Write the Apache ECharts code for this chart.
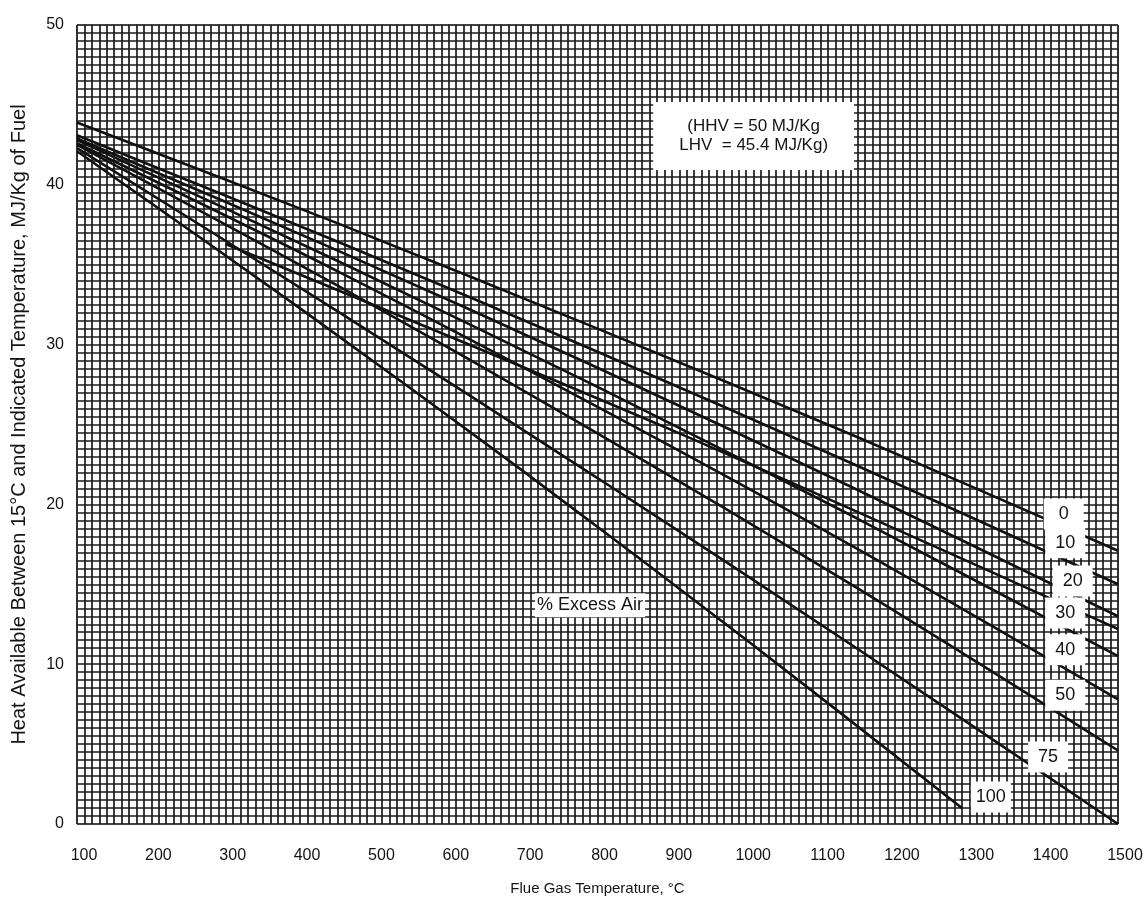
<!DOCTYPE html>
<html>
<head>
<meta charset="utf-8">
<script src="https://cdn.jsdelivr.net/npm/echarts@6/dist/echarts.min.js"></script>
<style>
  html, body { margin: 0; padding: 0; background: #fff; }
  #chart { width: 1148px; height: 902px; }
</style>
</head>
<body>
<div id="chart"></div>
<script>
// Heat available between 15 °C and flue gas temperature, one curve per % excess air.
// Each curve: [temperature °C, MJ/kg of fuel]
const air0   = [[100, 43.9], [450, 37.6], [800, 31.0], [1150, 24.2], [1500, 17.1]];
const air10  = [[100, 43.1], [450, 36.45], [800, 29.55], [1150, 22.4], [1500, 15.0]];
const air20  = [[100, 42.9], [450, 35.9], [800, 28.55], [1150, 20.9], [1500, 13.0]];
const extra  = [[300, 36.3], [900, 24.65], [1500, 12.2]];
const air30  = [[100, 42.8], [450, 35.25], [800, 27.35], [1150, 19.1], [1500, 10.5]];
const air40  = [[100, 42.6], [450, 34.6], [800, 26.1], [1150, 17.2], [1500, 7.8]];
const air50  = [[100, 42.5], [450, 33.7], [800, 24.45], [1150, 14.75], [1500, 4.6]];
const air75  = [[100, 42.3], [450, 32.1], [800, 21.65], [1150, 10.95], [1500, 0.0]];
const air100 = [[100, 42.1], [400, 32.27], [700, 22.08], [1000, 11.53], [1290, 1.0]];

const curves = [air0, air10, air20, extra, air30, air40, air50, air75, air100];

// Curve tags: [temperature, value, text]
const curveTags = [
  [1427, 19.4, '0'],
  [1429, 17.6, '10'],
  [1439, 15.2, '20'],
  [1429, 13.2, '30'],
  [1429, 10.9, '40'],
  [1429, 8.06, '50'],
  [1406, 4.19, '75'],
  [1329, 1.69, '100']
];
const fuelNote = [[1010, 43.06, '(HHV = 50 MJ/Kg\nLHV  = 45.4 MJ/Kg)']];
const airNote = [[790, 13.69, '% Excess Air']];

const xTitle = 'Flue Gas Temperature, °C';
const yTitle = 'Heat Available Between 15°C and Indicated Temperature, MJ/Kg of Fuel';

const FONT = '"Liberation Sans", Arial, sans-serif';
const INK = '#141414';
const gridLine = { color: '#1a1a1a', width: 1.7 };

const chart = echarts.init(document.getElementById('chart'), null, { renderer: 'canvas' });

const lineSeries = curves.map(pts => ({
  type: 'line',
  data: pts,
  showSymbol: false,
  symbol: 'none',
  smooth: 0.3,
  silent: true,
  z: 3,
  lineStyle: { color: '#111', width: 2.6 }
}));

function tagSeries(data, fontSize, padding, lineHeight, width) {
  return {
    type: 'scatter',
    data: data,
    symbolSize: 1,
    silent: true,
    z: 6,
    itemStyle: { color: 'rgba(0,0,0,0)', opacity: 1 },
    label: {
      show: true,
      position: 'inside',
      formatter: p => p.value[2],
      backgroundColor: '#ffffff',
      opacity: 1,
      padding: padding,
      width: width,
      fontFamily: FONT,
      fontSize: fontSize,
      lineHeight: lineHeight,
      color: INK,
      align: 'center'
    }
  };
}

chart.setOption({
  animation: false,
  backgroundColor: '#fff',
  grid: {
    left: 77, right: 30, top: 25, bottom: 78,
    containLabel: false,
    outerBoundsMode: 'none',
    show: true,
    borderColor: '#7a7a7a',
    borderWidth: 1
  },
  xAxis: {
    type: 'value',
    min: 100, max: 1500, interval: 100,
    name: xTitle,
    nameLocation: 'middle',
    nameGap: 57,
    nameTextStyle: { fontFamily: FONT, fontSize: 15, color: INK },
    axisLine: { show: false },
    axisTick: { show: false },
    axisLabel: {
      fontFamily: FONT, fontSize: 16, color: INK, margin: 24, padding: [0, 0, 0, 14],
      formatter: v => String(v)
    },
    splitLine: { show: true, lineStyle: gridLine },
    minorTick: { show: false, splitNumber: 10 },
    minorSplitLine: { show: true, lineStyle: gridLine }
  },
  yAxis: {
    type: 'value',
    min: 0, max: 50, interval: 10,
    name: yTitle,
    nameLocation: 'middle',
    nameGap: 48,
    nameRotate: 90,
    nameTextStyle: { fontFamily: FONT, fontSize: 20, color: INK },
    axisLine: { show: false },
    axisTick: { show: false },
    axisLabel: { fontFamily: FONT, fontSize: 16, color: INK, margin: 13, formatter: v => String(v) },
    splitLine: { show: true, lineStyle: gridLine },
    minorTick: { show: false, splitNumber: 20 },
    minorSplitLine: { show: true, lineStyle: gridLine }
  },
  series: [
    ...lineSeries,
    tagSeries(curveTags, 18, [6, 9], 19, 22),
    tagSeries(fuelNote, 17, [15, 26], 19),
    tagSeries(airNote, 18, [3, 2], 18)
  ]
});
</script>
</body>
</html>
